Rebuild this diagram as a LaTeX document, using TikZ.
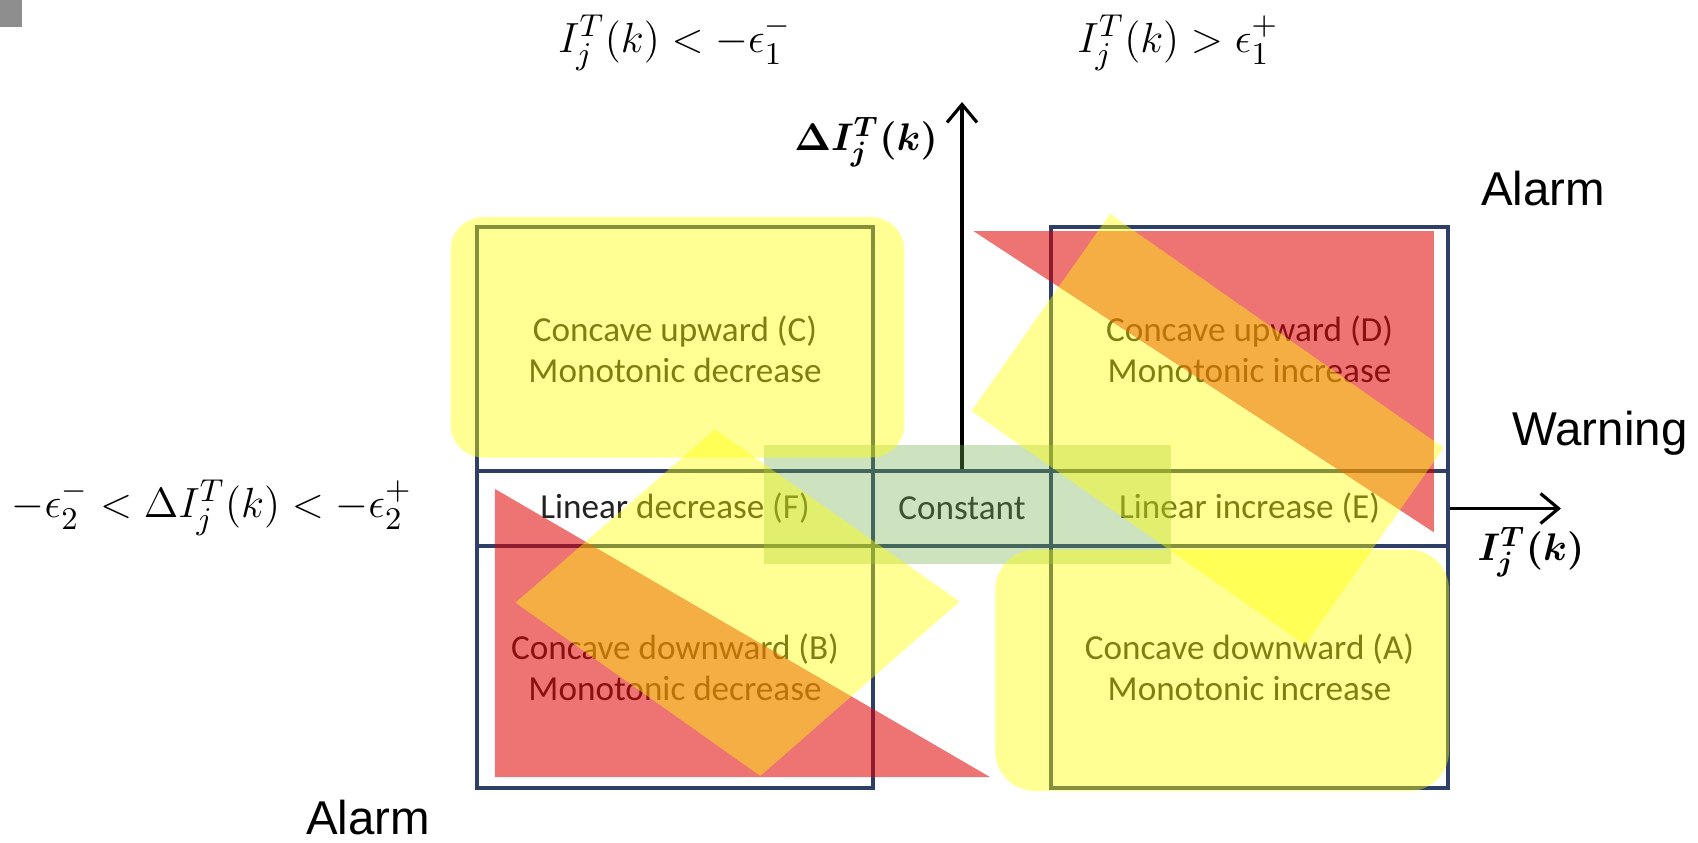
\documentclass[tikz,border=0pt]{standalone}
\usepackage{amsmath,amssymb}
\usepackage{bm}
\usepackage{fontspec}
\usepackage{xcolor}
\usepackage{tikz}
\usetikzlibrary{arrows.meta,positioning}
\newfontfamily\cellfont{Carlito}
\newfontfamily\notefont{Liberation Sans}
\definecolor{cGrid}{HTML}{2E4068}
\definecolor{cText}{HTML}{222222}
\definecolor{cRed}{HTML}{E00000}
\definecolor{cYel}{HTML}{FFFF00}
\definecolor{cGreen}{HTML}{70AD47}
\definecolor{cGray}{HTML}{8E8E8E}
\tikzset{
  cell/.style  = {rectangle, draw=cGrid, line width=1.1pt, align=center,
                  text=cText, inner sep=0pt,
                  font=\cellfont\fontsize{10}{11.7}\selectfont},
  big/.style   = {cell, minimum width=3.96cm, minimum height=2.44cm},
  bandc/.style = {cell, minimum height=0.75cm},
  ax/.style    = {-{Straight Barb[length=1.8mm,width=3mm]}, line width=0.9pt},
  mlab/.style  = {font=\fontsize{12.5}{15}\selectfont, inner sep=1pt},
  alab/.style  = {font=\fontsize{11}{13}\selectfont, inner sep=1pt},
  note/.style  = {font=\notefont\fontsize{13.5}{16}\selectfont, inner sep=0pt},
  ovg/.style   = {fill=cGreen, fill opacity=0.35},
  ovr/.style   = {fill=cRed, fill opacity=0.55},
  ovy/.style   = {fill=cYel, fill opacity=0.42},
}
\begin{document}
\begin{tikzpicture}
  \useasboundingbox (0,0) rectangle (16.98,8.42);
  \fill[cGray] (0,8.15) rectangle (0.22,8.42);

  % ---- grid of the six shapes ----
  \node[big] (cC) at (6.75,4.93) {Concave upward (C)\\Monotonic decrease};
  \node[big, minimum width=3.97cm] (cD) at (12.495,4.93) {Concave upward (D)\\Monotonic increase};
  \node[bandc, minimum width=3.96cm] (cF) at (6.75,3.335) {Linear decrease (F)};
  \node[bandc, minimum width=1.78cm] (cK) at (9.62,3.335) {Constant};
  \node[bandc, minimum width=3.97cm] (cE) at (12.495,3.335) {Linear increase (E)};
  \node[big, minimum height=2.42cm] (cB) at (6.75,1.75) {Concave downward (B)\\Monotonic decrease};
  \node[big, minimum width=3.97cm, minimum height=2.42cm] (cA) at (12.495,1.75) {Concave downward (A)\\Monotonic increase};

  % ---- axes ----
  \coordinate (ytip) at (9.62,7.40);
  \coordinate (xtip) at (15.61,3.335);
  \draw[ax] (cK.north) -- (ytip);
  \draw[ax] (cE.east) -- (xtip);
  \node[alab, anchor=east] (ylab) at (9.42,7.00) {$\bm{\Delta I_j^T(k)}$};
  \node[alab] (xlab) at (15.31,2.90) {$\bm{I_j^T(k)}$};

  % ---- thresholds ----
  \node[mlab] (thl) at (6.75,7.99) {$I_j^T(k) < -\epsilon_1^-$};
  \node[mlab] (thr) at (11.78,7.99) {$I_j^T(k) > \epsilon_1^+$};
  \node[mlab] (thm) at (2.12,3.34) {$-\epsilon_2^- < \Delta I_j^T(k) < -\epsilon_2^+$};

  % ---- levels ----
  \node[note] (alarmr) at (15.43,6.53) {Alarm};
  \node[note] (warn) at (16.00,4.09) {Warning};
  \node[note] (alarml) at (3.68,0.24) {Alarm};

  % ---- coloured zones ----
  \fill[ovg] (7.64,2.78) rectangle (11.71,3.975);
  \fill[ovr] (9.736,6.108) -- (14.339,6.108) -- (14.339,3.097) -- cycle;
  \fill[ovr] (4.949,3.531) -- (4.949,0.650) -- (9.899,0.650) -- cycle;
  \fill[ovy, rounded corners=0.33cm] (4.505,3.845) rectangle (9.043,6.249);
  \fill[ovy, rounded corners=0.40cm] (9.953,0.509) rectangle (14.49,2.924);
  \fill[ovy] (11.10,6.281) -- (14.436,3.942) -- (13.05,1.971) -- (9.714,4.310) -- cycle;
  \fill[ovy] (7.148,4.126) -- (9.595,2.404) -- (7.603,0.661) -- (5.155,2.393) -- cycle;
\end{tikzpicture}
\end{document}
